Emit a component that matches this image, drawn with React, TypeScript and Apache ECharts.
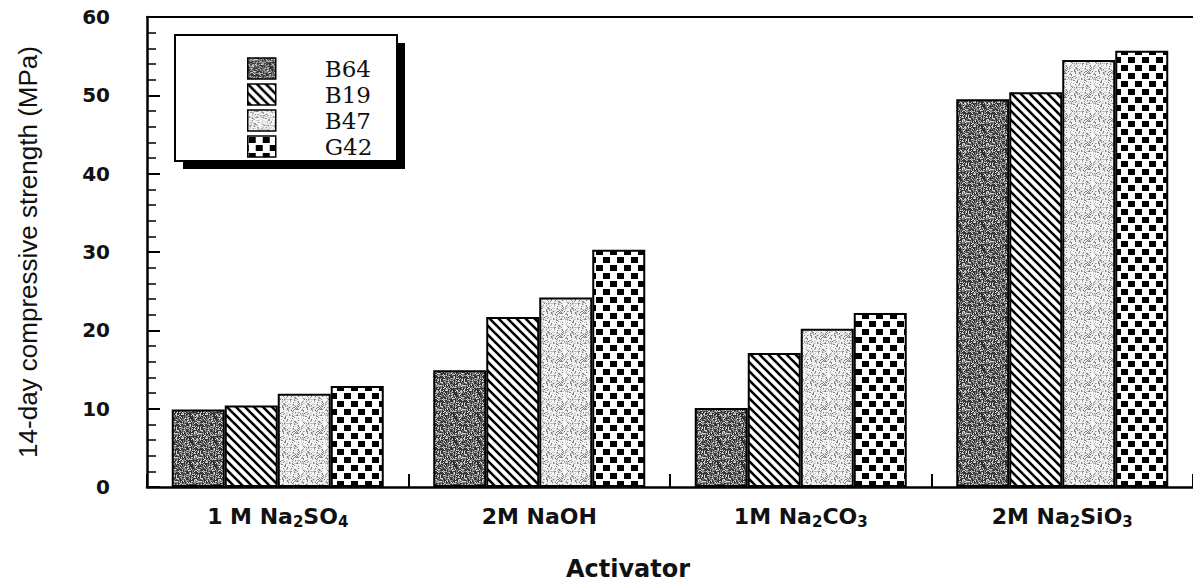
import React, { useEffect, useRef } from "react";
import * as echarts from "echarts";

const categories = ["1 M Na2SO4", "2M NaOH", "1M Na2CO3", "2M Na2SiO3"];
const seriesNames = ["B64", "B19", "B47", "G42"];
const b64 = [9.9, 14.9, 10.1, 49.5];
const b19 = [10.4, 21.7, 17.1, 50.4];
const b47 = [11.9, 24.2, 20.2, 54.5];
const g42 = [12.9, 30.3, 22.2, 55.7];
const yTicks = [0, 10, 20, 30, 40, 50, 60];

function hash(i: number, j: number) {
  const s = Math.sin(i * 127.1 + j * 311.7) * 43758.5453;
  return s - Math.floor(s);
}

function tile(w: number, h: number, draw: (ctx: CanvasRenderingContext2D) => void) {
  const c = document.createElement("canvas");
  c.width = w;
  c.height = h;
  const ctx = c.getContext("2d")!;
  draw(ctx);
  return { image: c.toDataURL(), repeat: "repeat", imageWidth: w, imageHeight: h };
}

function makePatterns() {
  const dark = tile(24, 24, (ctx) => {
    for (let i = 0; i < 24; i++)
      for (let j = 0; j < 24; j++) {
        const v = hash(i, j);
        ctx.fillStyle = v < 0.48 ? "#333" : v < 0.8 ? "#858585" : "#d2d2d2";
        ctx.fillRect(i, j, 1, 1);
      }
  });
  const stripes = tile(9, 9, (ctx) => {
    ctx.fillStyle = "#fff";
    ctx.fillRect(0, 0, 9, 9);
    ctx.strokeStyle = "#000";
    ctx.lineWidth = 2.6;
    for (let k = -1; k <= 1; k++) {
      ctx.beginPath();
      ctx.moveTo(k * 9 - 3, -3);
      ctx.lineTo(k * 9 + 12, 12);
      ctx.stroke();
    }
  });
  const light = tile(24, 24, (ctx) => {
    for (let i = 0; i < 24; i++)
      for (let j = 0; j < 24; j++) {
        const v = hash(i + 50, j + 31);
        ctx.fillStyle = v < 0.16 ? "#858585" : v < 0.36 ? "#c4c4c4" : "#f4f4f4";
        ctx.fillRect(i, j, 1, 1);
      }
  });
  const blocks = tile(14, 16, (ctx) => {
    ctx.fillStyle = "#fff";
    ctx.fillRect(0, 0, 14, 16);
    ctx.fillStyle = "#000";
    ctx.fillRect(1, 1, 7, 6);
    ctx.fillRect(8, 9, 6, 6);
    ctx.fillRect(0, 9, 1, 6);
  });
  return [dark, stripes, light, blocks];
}

function subFormat(v: string) {
  const parts: string[] = [];
  const re = /([A-Za-z])(\d)/g;
  let last = 0;
  let m: RegExpExecArray | null;
  while ((m = re.exec(v))) {
    const end = m.index + 1;
    parts.push("{b|" + v.slice(last, end) + "}");
    parts.push("{sub|" + m[2] + "}");
    last = end + 1;
  }
  if (last < v.length) parts.push("{b|" + v.slice(last) + "}");
  return parts.join("");
}

export default function App() {
  const ref = useRef<HTMLDivElement>(null);
  useEffect(() => {
    const chart = echarts.init(ref.current!, null, { renderer: "svg" });
    const pats = makePatterns();
    const values = [b64, b19, b47, g42];
    const font = "'Liberation Sans', Arial, sans-serif";
    const wide = "'DejaVu Sans', Verdana, sans-serif";
    chart.setOption({
      animation: false,
      backgroundColor: "#fff",
      grid: { left: 147, right: -2, top: 17, bottom: 88, containLabel: false },
      legend: {
        data: seriesNames,
        orient: "vertical",
        left: 242,
        top: 52,
        itemWidth: 28,
        itemHeight: 21,
        itemGap: 3,
        icon: "rect",
        itemStyle: { borderColor: "#000", borderWidth: 1.5 },
        textStyle: {
          fontFamily: "'DejaVu Serif', 'Liberation Serif', serif",
          fontSize: 23,
          lineHeight: 22,
          color: "#111",
          padding: [0, 0, 0, 44],
        },
      },
      graphic: [
        { type: "rect", z: 1, shape: { x: 183, y: 43, width: 222, height: 126 }, style: { fill: "#000" } },
        {
          type: "rect",
          z: 1,
          shape: { x: 175, y: 35, width: 222, height: 126 },
          style: { fill: "#fff", stroke: "#000", lineWidth: 2 },
        },
      ],
      xAxis: [
        {
          type: "category",
          data: categories,
          name: "Activator",
          nameLocation: "middle",
          nameGap: 70,
          nameTextStyle: {
            fontFamily: wide,
            fontSize: 24,
            fontWeight: "bold",
            color: "#111",
            padding: [0, 84, 0, 0],
          },
          axisLine: { show: true, lineStyle: { color: "#000", width: 2.5 } },
          axisTick: { show: true, inside: true, length: 13, alignWithLabel: false, lineStyle: { color: "#000", width: 2 } },
          axisLabel: {
            margin: 16,
            color: "#111",
            formatter: (v: string) => subFormat(v),
            rich: {
              b: { fontFamily: wide, fontSize: 22, fontWeight: "bold", color: "#111", lineHeight: 26 },
              sub: { fontFamily: wide, fontSize: 15, fontWeight: "bold", color: "#111", lineHeight: 15, padding: [11, 0, 0, 0] },
            },
          },
        },
        {
          type: "category",
          data: categories,
          position: "top",
          axisLine: { show: true, lineStyle: { color: "#000", width: 2 } },
          axisTick: { show: false },
          axisLabel: { show: false },
        },
      ],
      yAxis: {
        type: "value",
        min: yTicks[0],
        max: yTicks[yTicks.length - 1],
        interval: 10,
        name: "14-day compressive strength (MPa)",
        nameLocation: "middle",
        nameGap: 106,
        nameTextStyle: { fontFamily: font, fontSize: 26, color: "#111" },
        axisLine: { show: true, lineStyle: { color: "#000", width: 2.5 } },
        axisTick: { show: true, inside: true, length: 13, lineStyle: { color: "#000", width: 2 } },
        minorTick: { show: true, splitNumber: 5, length: 9, lineStyle: { color: "#000", width: 1.5 } },
        splitLine: { show: false },
        axisLabel: { margin: 37, fontFamily: wide, fontSize: 20, fontWeight: "bold", color: "#111" },
      },
      series: seriesNames.map((n, i) => ({
        name: n,
        type: "bar",
        data: values[i],
        barWidth: 53,
        barGap: "0%",
        itemStyle: { color: pats[i], borderColor: "#000", borderWidth: 2 },
      })),
    });
    return () => chart.dispose();
  }, []);
  return <div ref={ref} style={{ position: "absolute", left: 0, top: 0, width: 1193, height: 586 }} />;
}
